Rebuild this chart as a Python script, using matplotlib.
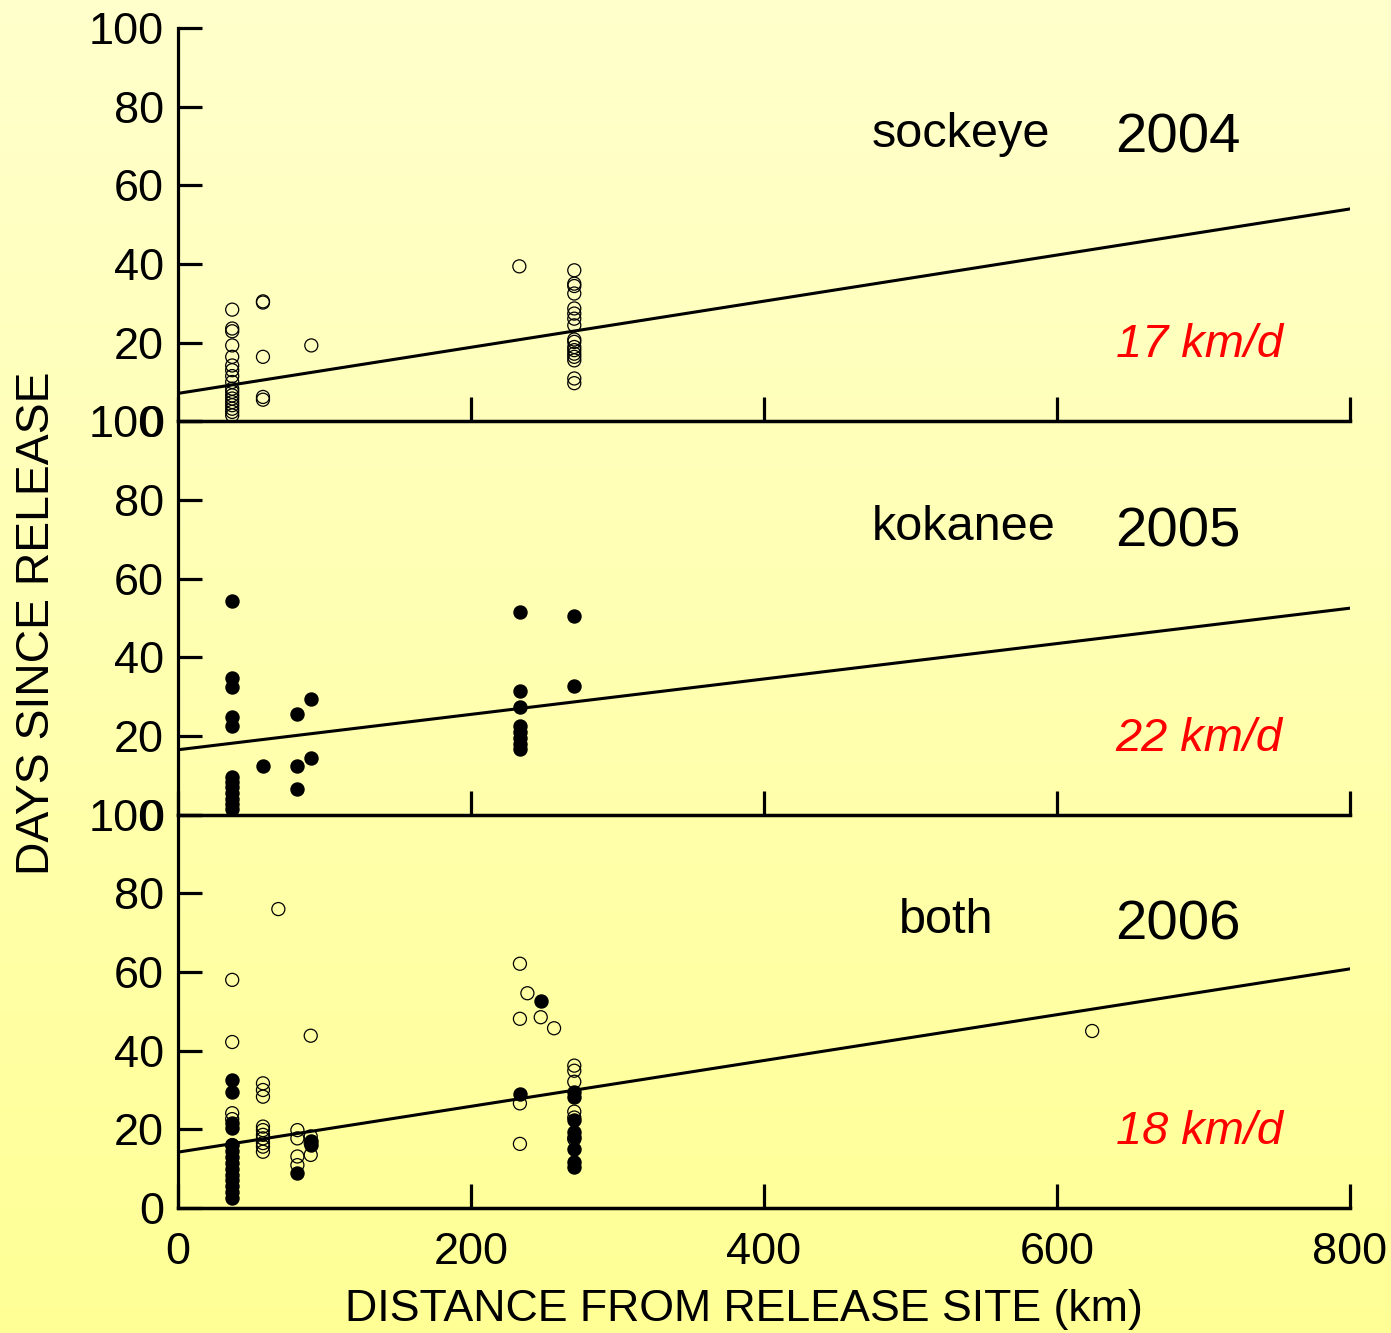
'''Days since release vs distance from release site, three years'''

import numpy as np
import matplotlib
matplotlib.use('Agg')
import matplotlib.pyplot as plt

plt.rcParams['font.family'] = ['Liberation Sans', 'DejaVu Sans']

# 2004 sockeye (open circles)
sock_x = [37] * 18 + [58] * 5 + [91, 233] + [270.5] * 17
sock_days = [28.4, 23.6, 22.9, 19.3, 16.4, 14.2, 13.0, 11.5, 10.0, 8.3, 7.5, 6.6, 5.8, 4.9, 4.1, 3.2, 2.4, 1.5,
             30.2, 30.5, 16.4, 6.2, 5.5,
             19.3, 39.4,
             38.4, 35.0, 34.4, 32.5, 28.7, 27.4, 26.1, 24.4, 20.8, 20.2, 18.9, 18.1, 17.2, 16.4, 15.5, 10.9, 9.7]

# 2005 kokanee (filled circles)
kok_x = [37] * 12 + [58] + [81.5] * 3 + [90.6] * 2 + [233.4] * 8 + [270.5] * 2
kok_days = [54.4, 34.7, 32.4, 24.9, 22.6, 9.7, 8.4, 7.0, 5.5, 4.0, 2.6, 1.5,
            12.5,
            25.5, 12.5, 6.5,
            29.4, 14.5,
            51.4, 31.5, 27.5, 22.5, 21.0, 19.5, 18.0, 16.8,
            50.5, 32.6]

# 2006 both: sockeye open, kokanee filled
both_sock_x = [68.5, 37, 37, 90.6, 37, 37, 37] + [58] * 10 + [81.5] * 4 + [90.6] * 3 + \
              [233.4, 238.5, 233.4, 247.6, 256.7, 233.4, 233.4] + [270.5] * 6 + [624]
both_sock_days = [76.0, 58.0, 42.2, 43.8, 24.1, 22.6, 16.0,
                  31.7, 30.0, 28.3, 20.7, 19.8, 18.6, 17.7, 16.5, 15.6, 14.3,
                  19.8, 17.7, 13.1, 10.9,
                  18.2, 16.5, 13.5,
                  62.1, 54.6, 48.1, 48.5, 45.7, 26.6, 16.3,
                  36.2, 34.9, 32.1, 24.5, 23.0, 17.5,
                  45.0]
both_kok_x = [37] * 14 + [81.5] + [90.6] * 2 + [247.6, 233.4] + [270.5] * 8
both_kok_days = [32.6, 29.6, 21.5, 20.3, 16.0, 14.5, 13.0, 11.5, 10.0, 8.5, 7.0, 5.5, 4.0, 2.6,
                 8.8,
                 17.0, 16.0,
                 52.7, 29.0,
                 29.6, 28.3, 22.4, 19.2, 18.1, 15.0, 11.8, 10.4]

# regression lines (ends at 0 and 800 km)
line_x = [0, 800]
line_2004 = [7.1, 54.0]
line_2005 = [16.5, 52.5]
line_2006 = [14.2, 60.8]

fish = ['sockeye', 'kokanee', 'both']
years = ['2004', '2005', '2006']
speeds = ['17 km/d', '22 km/d', '18 km/d']

fig = plt.figure(figsize=(13.91, 13.33), dpi=100)

# yellow gradient background
bg = fig.add_axes([0, 0, 1, 1], zorder=-1)
grad = np.linspace(0, 1, 256).reshape(-1, 1)
top = np.array([255, 255, 204]) / 255
bot = np.array([255, 255, 150]) / 255
img = top + (bot - top) * grad[:, :, None]
bg.imshow(img, aspect='auto', extent=[0, 1, 0, 1])
bg.axis('off')

left, right = 178 / 1391, 1350 / 1391
ptop, pbot = 1 - 28 / 1333, 1 - 1208 / 1333
h = (ptop - pbot) / 3

axes = []
for i in range(3):
    ax = fig.add_axes([left, ptop - (i + 1) * h, right - left, h])
    ax.set_facecolor('none')
    axes.append(ax)

ms = 88
axes[0].scatter(sock_x, sock_days, s=ms, facecolors='none', edgecolors='black', linewidths=0.9, clip_on=False, zorder=3)
axes[1].scatter(kok_x, kok_days, s=ms, color='black', clip_on=False, zorder=3)
axes[2].scatter(both_sock_x, both_sock_days, s=ms, facecolors='none', edgecolors='black', linewidths=0.9, clip_on=False, zorder=3)
axes[2].scatter(both_kok_x, both_kok_days, s=ms, color='black', clip_on=False, zorder=4)

for ax, ly in zip(axes, [line_2004, line_2005, line_2006]):
    ax.plot(line_x, ly, color='black', lw=2.2, zorder=2)

name_x = [473.7, 473.7, 492]
for i, ax in enumerate(axes):
    ax.set_xlim(0, 800)
    ax.set_ylim(0, 100)
    ax.spines['top'].set_visible(False)
    ax.spines['right'].set_visible(False)
    ax.spines['left'].set_linewidth(2.3)
    ax.spines['bottom'].set_linewidth(2.5)
    ax.set_xticks([0, 200, 400, 600, 800])
    ax.set_yticks([0, 20, 40, 60, 80, 100])
    ax.tick_params(direction='in', length=17, width=2.3, labelsize=32.5, pad=10)
    ax.tick_params(axis='x', pad=17)
    if i < 2:
        ax.tick_params(axis='x', labelbottom=False)
    ax.text(name_x[i], 73, fish[i], fontsize=35, ha='left', va='center')
    ax.text(639.6, 71.8, years[i], fontsize=40.5, ha='left', va='center')
    ax.text(754, 19.3, speeds[i], fontsize=33.8, color='red', style='italic', ha='right', va='center')

fig.text(0.0265, 1 - 623 / 1333, 'DAYS SINCE RELEASE', rotation=90, fontsize=33.4, ha='center', va='center')
axes[2].set_xlabel('DISTANCE FROM RELEASE SITE (km)', fontsize=32.2)
axes[2].xaxis.set_label_coords(0.4825, -0.205)

fig.savefig('out.png', dpi=100)
